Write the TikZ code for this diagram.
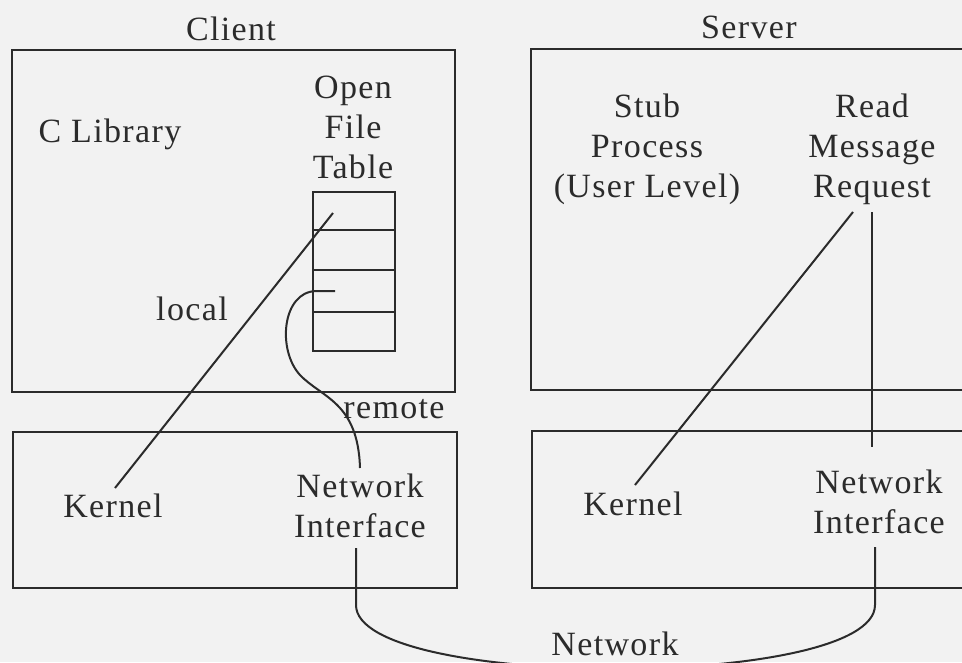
\documentclass[tikz,border=0pt]{standalone}
\usepackage{fontspec}
\setmainfont{Liberation Serif}[LetterSpace=4]
\definecolor{ink}{HTML}{2B2B2B}
\definecolor{paper}{HTML}{F2F2F2}
\begin{document}
\begin{tikzpicture}[x=1pt,y=-1pt,
  lbl/.style={inner sep=0pt, anchor=base, text=ink, font=\fontsize{34}{40}\selectfont},
  mlbl/.style={lbl, align=center},
  ln/.style={draw=ink, line width=2pt},
]
\useasboundingbox (0,0) rectangle (962,662);
\fill[paper] (0,0) rectangle (962,662);
\begin{scope}
\clip (0,0) rectangle (962,662);
% boxes
\draw[ln] (12,50) rectangle (455,392);
\draw[ln] (13,432) rectangle (457,588);
\draw[ln] (531,49) rectangle (1000,390);
\draw[ln] (532,431) rectangle (1000,588);
% open file table
\draw[ln] (313,192) rectangle (395,351);
\draw[ln] (313,230) -- (395,230);
\draw[ln] (313,270) -- (395,270);
\draw[ln] (313,312) -- (395,312);
% labels (multi-line labels: base anchor = baseline of last line)
\node[lbl] (client) at (231,40) {Client};
\node[lbl] (server) at (749,38) {Server};
\node[lbl] (clib) at (110,142) {C Library};
\node[mlbl] (oft) at (353,178) {Open\\File\\Table};
\node[lbl] (local) at (192,320) {local};
\node[lbl] (remote) at (394,418) {remote};
\node[lbl] (kc) at (113,517) {Kernel};
\node[mlbl] (nic) at (360,537) {Network\\Interface};
\node[mlbl] (stub) at (647,197) {Stub\\Process\\(User Level)};
\node[mlbl] (rmr) at (872,197) {Read\\Message\\Request};
\node[lbl] (ks) at (633,515) {Kernel};
\node[mlbl] (nis) at (879,533) {Network\\Interface};
\node[lbl] (net) at (615,655) {Network};
% connector ends
\coordinate (lA) at (333,213);
\coordinate (lB) at (115,488);
\coordinate (rA) at (335,291);
\coordinate (rB) at (360,468);
\coordinate (sA) at (853,212);
\coordinate (sB) at (635,485);
\coordinate (vA) at (872,212);
\coordinate (vB) at (872,447);
\coordinate (nA) at (356,548);
\coordinate (nB) at (875,547);
% connectors
\draw[ln] (lA) -- (lB);
\draw[ln] (rA) -- (316,291) .. controls (282,292) and (277,350) .. (300,375)
          .. controls (322,398) and (358,402) .. (rB);
\draw[ln] (sA) -- (sB);
\draw[ln] (vA) -- (vB);
\draw[ln] (nA) -- (356,605) .. controls (356,690) and (875,690) .. (875,605) -- (nB);
\end{scope}
\end{tikzpicture}
\end{document}
